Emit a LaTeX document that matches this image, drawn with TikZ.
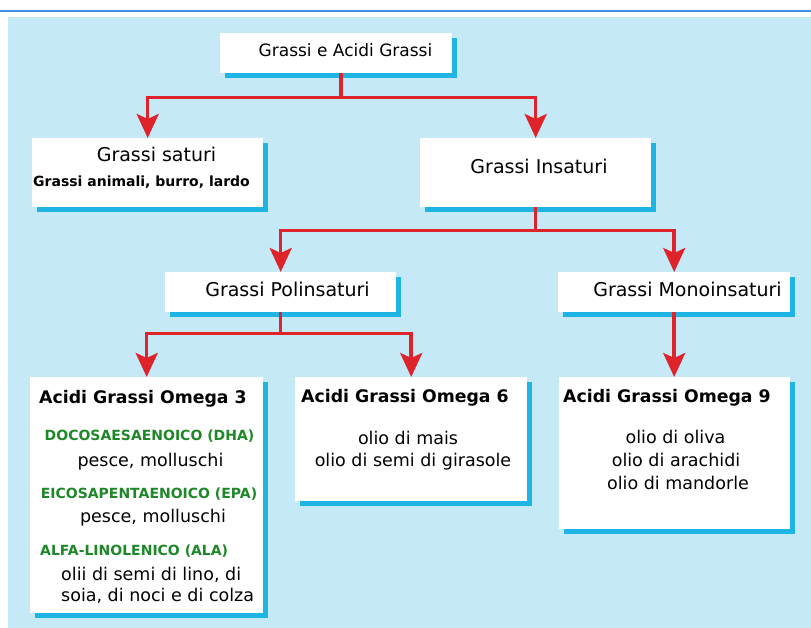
\documentclass[tikz,border=0pt]{standalone}
\usepackage{fontspec}
\setmainfont{DejaVu Sans}
\usetikzlibrary{arrows.meta,shadows}

\definecolor{skyblue}{RGB}{198,233,248}
\definecolor{boxcyan}{RGB}{30,180,228}
\definecolor{arrowred}{RGB}{222,36,42}
\definecolor{acidgreen}{RGB}{30,135,40}
\definecolor{rulerblue}{RGB}{66,144,226}

\tikzset{
  fatbox/.style={rectangle, fill=white, inner sep=0pt, anchor=north west,
    drop shadow={shadow xshift=5pt, shadow yshift=-5pt, fill=boxcyan, opacity=1}},
  redarrow/.style={draw=arrowred, line width=3.5pt, -{Stealth[length=24pt,width=22pt,inset=5pt]}},
  word/.style={inner sep=0pt, anchor=base},
  toptext/.style={word, font=\fontsize{17}{20}\selectfont},
  midtext/.style={word, font=\fontsize{19}{22}\selectfont},
  bodytext/.style={word, font=\fontsize{17.5}{21}\selectfont},
  omegatext/.style={word, anchor=base west, font=\bfseries\fontsize{17.3}{20}\selectfont},
  acidtext/.style={word, text=acidgreen, font=\bfseries\fontsize{14}{17}\selectfont},
}

\begin{document}
\begin{tikzpicture}[x=1pt,y=-1pt]

\useasboundingbox (0,0) rectangle (811,628);

%draw the background
\draw [rulerblue, line width=1.5pt] (0,11) -- (811,11);
\fill [skyblue] (8,17) rectangle (811,628);

%draw the boxes
\node [fatbox, minimum width=232pt, minimum height=40pt] (grassi) at (220,33) {};
\node [fatbox, minimum width=231pt, minimum height=69pt] (saturi) at (32,138) {};
\node [fatbox, minimum width=231pt, minimum height=69pt] (insaturi) at (420,138) {};
\node [fatbox, minimum width=231pt, minimum height=40pt] (poli) at (165,272) {};
\node [fatbox, minimum width=232pt, minimum height=40pt] (mono) at (558,272) {};
\node [fatbox, minimum width=233pt, minimum height=236pt] (omegathree) at (30,377) {};
\node [fatbox, minimum width=232pt, minimum height=124pt] (omegasix) at (295,377) {};
\node [fatbox, minimum width=231pt, minimum height=152pt] (omeganine) at (559,377) {};

%texts of the upper boxes
\node [toptext] (grassilabel) at (345.5,57) {Grassi e Acidi Grassi};
\node [midtext] (saturilabel) at (156.5,162) {Grassi saturi};
\node [word, font=\bfseries\fontsize{14}{17}\selectfont] (saturifood) at (141.5,187) {Grassi animali, burro, lardo};
\node [midtext] (insaturilabel) at (539,174) {Grassi Insaturi};
\node [midtext] (polilabel) at (287.5,297) {Grassi Polinsaturi};
\node [midtext] (monolabel) at (687.5,297) {Grassi Monoinsaturi};

%omega 3
\node [omegatext] (threelabel) at (39,403) {Acidi Grassi Omega 3};
\node [acidtext] (dha) at (149.5,440) {DOCOSAESAENOICO (DHA)};
\node [bodytext] (dhafood) at (150.5,466) {pesce, molluschi};
\node [acidtext] (epa) at (149,498) {EICOSAPENTAENOICO (EPA)};
\node [bodytext] (epafood) at (153,522) {pesce, molluschi};
\node [acidtext, anchor=base west] (ala) at (40,555) {ALFA-LINOLENICO (ALA)};
\node [bodytext, anchor=base west] (alafood) at (61,580) {olii di semi di lino, di};
\node [bodytext, anchor=base west] (alafoodtwo) at (61,601) {soia, di noci e di colza};

%omega 6
\node [omegatext] (sixlabel) at (301,402) {Acidi Grassi Omega 6};
\node [bodytext] (mais) at (408,444) {olio di mais};
\node [bodytext] (girasole) at (413,466) {olio di semi di girasole};

%omega 9
\node [omegatext] (ninelabel) at (563,402) {Acidi Grassi Omega 9};
\node [bodytext] (oliva) at (675.5,443) {olio di oliva};
\node [bodytext] (arachidi) at (676,466) {olio di arachidi};
\node [bodytext] (mandorle) at (678,489) {olio di mandorle};

%draw the arrows
\draw [redarrow] ([xshift=5pt]grassi.south) -- ++(0,24) -| (saturi.north);
\draw [redarrow] ([xshift=5pt]grassi.south) -- ++(0,24) -| (insaturi.north);
\draw [redarrow] (insaturi.south) -- ++(0,23) -| (poli.north);
\draw [redarrow] (insaturi.south) -- ++(0,23) -| (mono.north);
\draw [redarrow] (poli.south) -- ++(0,21) -| (omegathree.north);
\draw [redarrow] (poli.south) -- ++(0,21) -| (omegasix.north);
\draw [redarrow] (mono.south) -- (mono.south |- omeganine.north);

\end{tikzpicture}
\end{document}
